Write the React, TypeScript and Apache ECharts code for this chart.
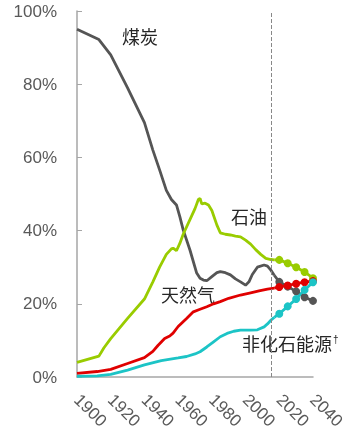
import React, { useEffect, useRef } from "react";
import * as echarts from "echarts";

const yTicks = [0, 20, 40, 60, 80, 100];
const xTicks = [1900, 1920, 1940, 1960, 1980, 2000, 2020, 2040];
const outlookStart = 2015;

// [year, share %]
const coalHist = [
  [1900, 95], [1913, 92.2], [1920, 88], [1930, 79], [1940, 69.5], [1945, 62], [1949, 56.6],
  [1953, 51], [1956, 48.5], [1959, 47], [1961, 43.8], [1963, 40.2], [1967, 34.7], [1971, 28.4],
  [1973, 27], [1975, 26.5], [1977, 26.3], [1980, 27.4], [1983, 28.5], [1985, 28.8], [1988, 28.5],
  [1991, 27.9], [1994, 26.8], [1997, 26], [2000, 25.1], [2002, 26], [2004, 28], [2007, 30],
  [2011, 30.6], [2013, 30.3], [2015, 29.2], [2017, 27.8],
];
const coalProj = [[2020, 26], [2025, 24.7], [2030, 23.4], [2035, 21.8], [2040, 20.8]];

const oilHist = [
  [1900, 4], [1913, 5.7], [1916, 8], [1920, 10.5], [1930, 16], [1940, 21.3], [1945, 26],
  [1949, 30], [1953, 33.5], [1956, 35], [1957, 35.2], [1959, 34.5], [1961, 36.5], [1963, 39],
  [1967, 43], [1970, 46], [1972, 48.5], [1973, 48.8], [1974, 47.3], [1976, 47.5], [1978, 47],
  [1980, 45.5], [1983, 41.5], [1985, 39.4], [1988, 39], [1991, 38.8], [1994, 38.5], [1997, 38.3],
  [2000, 37.4], [2003, 36.3], [2006, 34.8], [2009, 33.5], [2012, 32.4], [2015, 32.1], [2017, 32],
];
const oilProj = [[2020, 32], [2025, 31.1], [2030, 30], [2035, 28.7], [2040, 27]];

const gasHist = [
  [1900, 1], [1912, 1.5], [1920, 2.1], [1930, 3.7], [1940, 5.3], [1945, 7], [1948, 8.6],
  [1952, 10.5], [1955, 11.2], [1957, 12], [1960, 13.8], [1965, 16], [1969, 17.8], [1973, 18.5],
  [1977, 19.2], [1981, 20], [1985, 20.6], [1990, 21.5], [1997, 22.4], [2003, 23], [2008, 23.5],
  [2013, 24], [2017, 24.3],
];
const gasProj = [[2020, 24.6], [2025, 25], [2030, 25.5], [2035, 25.9], [2040, 26.2]];

const nonFossilHist = [
  [1900, 0.2], [1912, 0.3], [1920, 0.7], [1930, 1.9], [1940, 3.3], [1950, 4.5], [1960, 5.2],
  [1965, 5.6], [1970, 6.3], [1973, 6.9], [1977, 8.2], [1981, 9.6], [1985, 11], [1989, 11.9],
  [1993, 12.5], [1997, 12.8], [2003, 12.8], [2007, 12.9], [2011, 13.7], [2013, 14.5], [2015, 15.5],
  [2017, 16.3],
];
const nonFossilProj = [[2020, 17.3], [2025, 19.3], [2030, 21.3], [2035, 23.8], [2040, 25.9]];

const labels = ["煤炭", "石油", "天然气", "非化石能源"];
const colors = ["#555555", "#99cc00", "#e00000", "#1cc4c6"];

export default function App() {
  const ref = useRef<HTMLDivElement>(null);
  useEffect(() => {
    if (!ref.current) return;
    const chart = echarts.init(ref.current, null, { renderer: "svg" });
    const hist = [coalHist, oilHist, gasHist, nonFossilHist];
    const proj = [coalProj, oilProj, gasProj, nonFossilProj];
    const series: any[] = [];
    hist.forEach((h, i) => {
      const s: any = {
        type: "line",
        name: labels[i] + "历史",
        data: h,
        symbol: "none",
        lineStyle: { color: colors[i], width: 2.8 },
        z: 3,
      };
      if (i === 0) {
        s.markLine = {
          silent: true,
          symbol: "none",
          label: { show: false },
          lineStyle: { color: "#888888", type: [4, 2], width: 1 },
          data: [{ xAxis: outlookStart }],
        };
      }
      series.push(s);
    });
    proj.forEach((p, i) => {
      const last = hist[i][hist[i].length - 1];
      series.push({
        type: "line",
        name: labels[i] + "展望",
        data: [{ value: last, symbol: "none" }, ...p.map((v) => ({ value: v }))],
        symbol: "circle",
        symbolSize: 8,
        itemStyle: { color: colors[i] },
        lineStyle: { color: colors[i], width: 2.8 },
        z: 4,
      });
    });
    chart.setOption({
      animation: false,
      grid: { left: 77, right: 44, top: 11, bottom: 56 },
      xAxis: {
        type: "value",
        min: xTicks[0],
        max: xTicks[xTicks.length - 1],
        interval: 20,
        splitLine: { show: false },
        axisLine: { lineStyle: { color: "#a6a6a6", width: 1.5 } },
        axisTick: { show: false },
        axisLabel: {
          rotate: -45,
          margin: 20,
          fontSize: 17,
          color: "#595959",
          fontFamily: "Liberation Sans, Arial, sans-serif",
          formatter: (v: number) => String(v),
        },
      },
      yAxis: {
        type: "value",
        min: yTicks[0],
        max: yTicks[yTicks.length - 1],
        interval: 20,
        splitLine: { show: false },
        axisLine: { show: true, lineStyle: { color: "#a6a6a6", width: 1.5 } },
        axisTick: { show: true, inside: true, length: 5, lineStyle: { color: "#a6a6a6" } },
        axisLabel: {
          margin: 20,
          fontSize: 17,
          color: "#595959",
          fontFamily: "Liberation Sans, Arial, sans-serif",
          formatter: (v: number) => v + "%",
        },
      },
      series,
      graphic: [
        {
          type: "text", left: 122, top: 27,
          style: { text: labels[0], fontSize: 18, fill: "#262626", fontFamily: "Noto Sans CJK SC" },
        },
        {
          type: "text", left: 231, top: 207,
          style: { text: labels[1], fontSize: 18, fill: "#262626", fontFamily: "Noto Sans CJK SC" },
        },
        {
          type: "text", left: 161, top: 285,
          style: { text: labels[2], fontSize: 18, fill: "#262626", fontFamily: "Noto Sans CJK SC" },
        },
        {
          type: "text", left: 242, top: 334,
          style: {
            text: "{a|" + labels[3] + "}{b|†}",
            rich: {
              a: { fontSize: 18, fill: "#262626", fontFamily: "Noto Sans CJK SC" },
              b: { fontSize: 10, fill: "#262626", verticalAlign: "top", padding: [0, 0, 8, 1] },
            },
          },
        },
      ],
    });
    return () => chart.dispose();
  }, []);
  return (
    <div
      ref={ref}
      style={{ position: "fixed", left: 0, top: 0, width: 357, height: 433 }}
    />
  );
}
